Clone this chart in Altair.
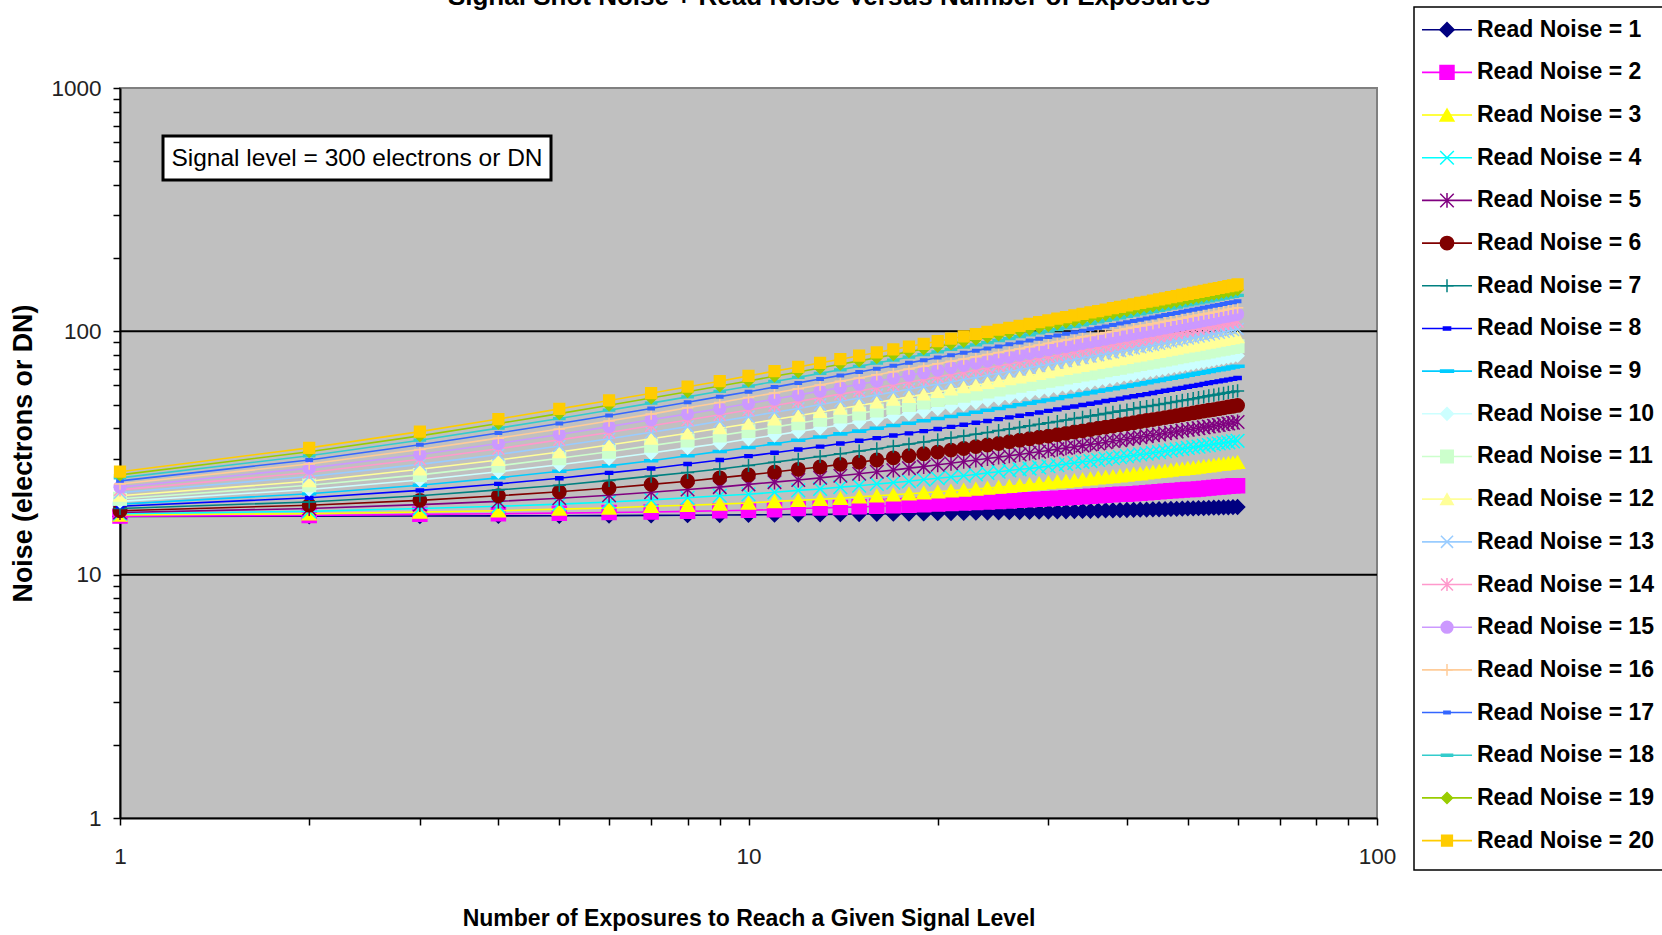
import altair as alt
import pandas as pd

# Number of exposures combined to reach the signal level (x axis)
exposures = [1, 2, 3, 4, 5, 6, 7, 8, 9, 10,
             11, 12, 13, 14, 15, 16, 17, 18, 19, 20,
             21, 22, 23, 24, 25, 26, 27, 28, 29, 30,
             31, 32, 33, 34, 35, 36, 37, 38, 39, 40,
             41, 42, 43, 44, 45, 46, 47, 48, 49, 50,
             51, 52, 53, 54, 55, 56, 57, 58, 59, 60]

# Total noise (electrons or DN) for each read-noise level
rn_01 = [17.35, 17.38, 17.41, 17.44, 17.46, 17.49, 17.52, 17.55, 17.58, 17.61,
         17.64, 17.66, 17.69, 17.72, 17.75, 17.78, 17.80, 17.83, 17.86, 17.89,
         17.92, 17.94, 17.97, 18.00, 18.03, 18.06, 18.08, 18.11, 18.14, 18.17,
         18.19, 18.22, 18.25, 18.28, 18.30, 18.33, 18.36, 18.38, 18.41, 18.44,
         18.47, 18.49, 18.52, 18.55, 18.57, 18.60, 18.63, 18.65, 18.68, 18.71,
         18.73, 18.76, 18.79, 18.81, 18.84, 18.87, 18.89, 18.92, 18.95, 18.97]
rn_02 = [17.4, 17.5, 17.7, 17.8, 17.9, 18.0, 18.1, 18.2, 18.3, 18.4,
         18.5, 18.7, 18.8, 18.9, 19.0, 19.1, 19.2, 19.3, 19.4, 19.5,
         19.6, 19.7, 19.8, 19.9, 20.0, 20.1, 20.2, 20.3, 20.4, 20.5,
         20.6, 20.7, 20.8, 20.9, 21.0, 21.1, 21.2, 21.3, 21.4, 21.4,
         21.5, 21.6, 21.7, 21.8, 21.9, 22.0, 22.1, 22.2, 22.3, 22.4,
         22.4, 22.5, 22.6, 22.7, 22.8, 22.9, 23.0, 23.1, 23.2, 23.2]
rn_03 = [17.6, 17.8, 18.1, 18.3, 18.6, 18.8, 19.1, 19.3, 19.5, 19.7,
         20.0, 20.2, 20.4, 20.6, 20.9, 21.1, 21.3, 21.5, 21.7, 21.9,
         22.1, 22.3, 22.5, 22.7, 22.9, 23.1, 23.3, 23.5, 23.7, 23.9,
         24.1, 24.2, 24.4, 24.6, 24.8, 25.0, 25.2, 25.3, 25.5, 25.7,
         25.9, 26.0, 26.2, 26.4, 26.6, 26.7, 26.9, 27.1, 27.2, 27.4,
         27.5, 27.7, 27.9, 28.0, 28.2, 28.4, 28.5, 28.7, 28.8, 29.0]
rn_04 = [17.8, 18.2, 18.7, 19.1, 19.5, 19.9, 20.3, 20.7, 21.1, 21.4,
         21.8, 22.2, 22.5, 22.9, 23.2, 23.6, 23.9, 24.2, 24.6, 24.9,
         25.2, 25.5, 25.8, 26.2, 26.5, 26.8, 27.1, 27.3, 27.6, 27.9,
         28.2, 28.5, 28.8, 29.1, 29.3, 29.6, 29.9, 30.1, 30.4, 30.7,
         30.9, 31.2, 31.4, 31.7, 31.9, 32.2, 32.4, 32.7, 32.9, 33.2,
         33.4, 33.6, 33.9, 34.1, 34.4, 34.6, 34.8, 35.0, 35.3, 35.5]
rn_05 = [18.0, 18.7, 19.4, 20.0, 20.6, 21.2, 21.8, 22.4, 22.9, 23.5,
         24.0, 24.5, 25.0, 25.5, 26.0, 26.5, 26.9, 27.4, 27.8, 28.3,
         28.7, 29.2, 29.6, 30.0, 30.4, 30.8, 31.2, 31.6, 32.0, 32.4,
         32.8, 33.2, 33.5, 33.9, 34.3, 34.6, 35.0, 35.4, 35.7, 36.1,
         36.4, 36.7, 37.1, 37.4, 37.7, 38.1, 38.4, 38.7, 39.1, 39.4,
         39.7, 40.0, 40.3, 40.6, 40.9, 41.2, 41.5, 41.8, 42.1, 42.4]
rn_06 = [18.3, 19.3, 20.2, 21.1, 21.9, 22.7, 23.5, 24.2, 25.0, 25.7,
         26.4, 27.1, 27.7, 28.4, 29.0, 29.6, 30.2, 30.8, 31.4, 31.9,
         32.5, 33.0, 33.6, 34.1, 34.6, 35.2, 35.7, 36.2, 36.7, 37.1,
         37.6, 38.1, 38.6, 39.0, 39.5, 40.0, 40.4, 40.8, 41.3, 41.7,
         42.1, 42.6, 43.0, 43.4, 43.8, 44.2, 44.6, 45.0, 45.4, 45.8,
         46.2, 46.6, 47.0, 47.4, 47.7, 48.1, 48.5, 48.9, 49.2, 49.6]
rn_07 = [18.7, 19.9, 21.1, 22.3, 23.3, 24.4, 25.4, 26.3, 27.2, 28.1,
         29.0, 29.8, 30.6, 31.4, 32.2, 32.9, 33.7, 34.4, 35.1, 35.8,
         36.5, 37.1, 37.8, 38.4, 39.1, 39.7, 40.3, 40.9, 41.5, 42.1,
         42.6, 43.2, 43.8, 44.3, 44.9, 45.4, 46.0, 46.5, 47.0, 47.5,
         48.1, 48.6, 49.1, 49.6, 50.0, 50.5, 51.0, 51.5, 52.0, 52.4,
         52.9, 53.4, 53.8, 54.3, 54.7, 55.2, 55.6, 56.1, 56.5, 56.9]
rn_08 = [19.1, 20.7, 22.2, 23.6, 24.9, 26.2, 27.3, 28.5, 29.6, 30.7,
         31.7, 32.7, 33.6, 34.6, 35.5, 36.4, 37.3, 38.1, 38.9, 39.7,
         40.5, 41.3, 42.1, 42.8, 43.6, 44.3, 45.0, 45.7, 46.4, 47.1,
         47.8, 48.5, 49.1, 49.8, 50.4, 51.0, 51.7, 52.3, 52.9, 53.5,
         54.1, 54.7, 55.2, 55.8, 56.4, 57.0, 57.5, 58.1, 58.6, 59.2,
         59.7, 60.2, 60.8, 61.3, 61.8, 62.3, 62.8, 63.3, 63.8, 64.3]
rn_09 = [19.5, 21.5, 23.3, 25.0, 26.6, 28.0, 29.4, 30.8, 32.1, 33.3,
         34.5, 35.7, 36.8, 37.9, 38.9, 40.0, 41.0, 41.9, 42.9, 43.8,
         44.7, 45.6, 46.5, 47.4, 48.2, 49.1, 49.9, 50.7, 51.5, 52.2,
         53.0, 53.8, 54.5, 55.3, 56.0, 56.7, 57.4, 58.1, 58.8, 59.5,
         60.2, 60.8, 61.5, 62.2, 62.8, 63.5, 64.1, 64.7, 65.3, 66.0,
         66.6, 67.2, 67.8, 68.4, 69.0, 69.5, 70.1, 70.7, 71.3, 71.8]
rn_10 = [20.0, 22.4, 24.5, 26.5, 28.3, 30.0, 31.6, 33.2, 34.6, 36.1,
         37.4, 38.7, 40.0, 41.2, 42.4, 43.6, 44.7, 45.8, 46.9, 48.0,
         49.0, 50.0, 51.0, 52.0, 52.9, 53.9, 54.8, 55.7, 56.6, 57.4,
         58.3, 59.2, 60.0, 60.8, 61.6, 62.4, 63.2, 64.0, 64.8, 65.6,
         66.3, 67.1, 67.8, 68.6, 69.3, 70.0, 70.7, 71.4, 72.1, 72.8,
         73.5, 74.2, 74.8, 75.5, 76.2, 76.8, 77.5, 78.1, 78.7, 79.4]
rn_11 = [20.5, 23.3, 25.7, 28.0, 30.1, 32.0, 33.9, 35.6, 37.3, 38.9,
         40.4, 41.9, 43.3, 44.7, 46.0, 47.3, 48.5, 49.8, 51.0, 52.2,
         53.3, 54.4, 55.5, 56.6, 57.7, 58.7, 59.7, 60.7, 61.7, 62.7,
         63.6, 64.6, 65.5, 66.4, 67.3, 68.2, 69.1, 70.0, 70.8, 71.7,
         72.5, 73.4, 74.2, 75.0, 75.8, 76.6, 77.4, 78.2, 78.9, 79.7,
         80.4, 81.2, 81.9, 82.7, 83.4, 84.1, 84.8, 85.5, 86.2, 86.9]
rn_12 = [21.1, 24.2, 27.1, 29.6, 31.9, 34.1, 36.2, 38.1, 40.0, 41.7,
         43.4, 45.0, 46.6, 48.1, 49.6, 51.0, 52.4, 53.8, 55.1, 56.4,
         57.7, 58.9, 60.1, 61.3, 62.4, 63.6, 64.7, 65.8, 66.9, 68.0,
         69.0, 70.1, 71.1, 72.1, 73.1, 74.1, 75.0, 76.0, 76.9, 77.8,
         78.8, 79.7, 80.6, 81.5, 82.3, 83.2, 84.1, 84.9, 85.8, 86.6,
         87.4, 88.2, 89.1, 89.9, 90.7, 91.5, 92.2, 93.0, 93.8, 94.6]
rn_13 = [21.7, 25.3, 28.4, 31.2, 33.8, 36.2, 38.5, 40.6, 42.7, 44.6,
         46.5, 48.2, 50.0, 51.6, 53.2, 54.8, 56.3, 57.8, 59.3, 60.7,
         62.0, 63.4, 64.7, 66.0, 67.3, 68.5, 69.7, 70.9, 72.1, 73.3,
         74.4, 75.6, 76.7, 77.8, 78.8, 79.9, 81.0, 82.0, 83.0, 84.0,
         85.0, 86.0, 87.0, 88.0, 88.9, 89.9, 90.8, 91.7, 92.6, 93.5,
         94.4, 95.3, 96.2, 97.1, 98.0, 98.8, 99.7, 100.5, 101.3, 102.2]
rn_14 = [22.3, 26.3, 29.8, 32.9, 35.8, 38.4, 40.9, 43.2, 45.4, 47.5,
         49.6, 51.5, 53.4, 55.2, 56.9, 58.6, 60.3, 61.9, 63.4, 65.0,
         66.5, 67.9, 69.3, 70.7, 72.1, 73.5, 74.8, 76.1, 77.4, 78.6,
         79.8, 81.1, 82.3, 83.5, 84.6, 85.8, 86.9, 88.0, 89.1, 90.2,
         91.3, 92.4, 93.4, 94.5, 95.5, 96.5, 97.5, 98.5, 99.5, 100.5,
         101.5, 102.4, 103.4, 104.3, 105.3, 106.2, 107.1, 108.0, 108.9, 109.8]
rn_15 = [22.9, 27.4, 31.2, 34.6, 37.7, 40.6, 43.3, 45.8, 48.2, 50.5,
         52.7, 54.8, 56.8, 58.7, 60.6, 62.4, 64.2, 66.0, 67.6, 69.3,
         70.9, 72.5, 74.0, 75.5, 77.0, 78.4, 79.8, 81.2, 82.6, 84.0,
         85.3, 86.6, 87.9, 89.2, 90.4, 91.7, 92.9, 94.1, 95.3, 96.4,
         97.6, 98.7, 99.9, 101.0, 102.1, 103.2, 104.3, 105.4, 106.4, 107.5,
         108.5, 109.5, 110.6, 111.6, 112.6, 113.6, 114.6, 115.5, 116.5, 117.5]
rn_16 = [23.6, 28.5, 32.7, 36.4, 39.7, 42.8, 45.7, 48.5, 51.0, 53.5,
         55.8, 58.1, 60.2, 62.3, 64.3, 66.3, 68.2, 70.1, 71.9, 73.6,
         75.3, 77.0, 78.7, 80.3, 81.9, 83.4, 84.9, 86.4, 87.9, 89.3,
         90.8, 92.2, 93.5, 94.9, 96.2, 97.5, 98.9, 100.1, 101.4, 102.7,
         103.9, 105.1, 106.3, 107.5, 108.7, 109.9, 111.0, 112.2, 113.3, 114.5,
         115.6, 116.7, 117.8, 118.8, 119.9, 121.0, 122.0, 123.1, 124.1, 125.1]
rn_17 = [24.3, 29.6, 34.2, 38.2, 41.8, 45.1, 48.2, 51.1, 53.9, 56.5,
         59.0, 61.4, 63.7, 65.9, 68.1, 70.2, 72.2, 74.2, 76.1, 78.0,
         79.8, 81.6, 83.3, 85.1, 86.7, 88.4, 90.0, 91.6, 93.2, 94.7,
         96.2, 97.7, 99.2, 100.6, 102.1, 103.5, 104.8, 106.2, 107.6, 108.9,
         110.2, 111.5, 112.8, 114.1, 115.3, 116.6, 117.8, 119.0, 120.3, 121.4,
         122.6, 123.8, 125.0, 126.1, 127.3, 128.4, 129.5, 130.6, 131.7, 132.8]
rn_18 = [25.0, 30.8, 35.7, 40.0, 43.8, 47.4, 50.7, 53.8, 56.7, 59.5,
         62.2, 64.7, 67.2, 69.5, 71.8, 74.1, 76.2, 78.3, 80.3, 82.3,
         84.3, 86.2, 88.0, 89.9, 91.7, 93.4, 95.1, 96.8, 98.5, 100.1,
         101.7, 103.3, 104.8, 106.4, 107.9, 109.4, 110.9, 112.3, 113.7, 115.2,
         116.5, 117.9, 119.3, 120.6, 122.0, 123.3, 124.6, 125.9, 127.2, 128.5,
         129.7, 131.0, 132.2, 133.4, 134.6, 135.8, 137.0, 138.2, 139.3, 140.5]
rn_19 = [25.7, 32.0, 37.2, 41.8, 45.9, 49.7, 53.2, 56.5, 59.6, 62.5,
         65.4, 68.1, 70.7, 73.2, 75.6, 77.9, 80.2, 82.4, 84.6, 86.7,
         88.8, 90.8, 92.8, 94.7, 96.6, 98.4, 100.2, 102.0, 103.8, 105.5,
         107.2, 108.9, 110.5, 112.1, 113.7, 115.3, 116.9, 118.4, 119.9, 121.4,
         122.9, 124.3, 125.8, 127.2, 128.6, 130.0, 131.4, 132.8, 134.1, 135.5,
         136.8, 138.1, 139.4, 140.7, 142.0, 143.2, 144.5, 145.7, 147.0, 148.2]
rn_20 = [26.5, 33.2, 38.7, 43.6, 48.0, 52.0, 55.7, 59.2, 62.4, 65.6,
         68.6, 71.4, 74.2, 76.8, 79.4, 81.9, 84.3, 86.6, 88.9, 91.1,
         93.3, 95.4, 97.5, 99.5, 101.5, 103.4, 105.4, 107.2, 109.1, 110.9,
         112.7, 114.5, 116.2, 117.9, 119.6, 121.2, 122.9, 124.5, 126.1, 127.7,
         129.2, 130.8, 132.3, 133.8, 135.3, 136.7, 138.2, 139.6, 141.1, 142.5,
         143.9, 145.3, 146.6, 148.0, 149.3, 150.7, 152.0, 153.3, 154.6, 155.9]

series_values = [rn_01, rn_02, rn_03, rn_04, rn_05, rn_06, rn_07, rn_08, rn_09, rn_10,
                 rn_11, rn_12, rn_13, rn_14, rn_15, rn_16, rn_17, rn_18, rn_19, rn_20]
assert all(len(v) == len(exposures) for v in series_values)

series_names = [
    "Read Noise = 1", "Read Noise = 2", "Read Noise = 3", "Read Noise = 4",
    "Read Noise = 5", "Read Noise = 6", "Read Noise = 7", "Read Noise = 8",
    "Read Noise = 9", "Read Noise = 10", "Read Noise = 11", "Read Noise = 12",
    "Read Noise = 13", "Read Noise = 14", "Read Noise = 15", "Read Noise = 16",
    "Read Noise = 17", "Read Noise = 18", "Read Noise = 19", "Read Noise = 20",
]
series_colors = [
    "#000080", "#FF00FF", "#FFFF00", "#00FFFF", "#800080",
    "#800000", "#008080", "#0000FF", "#00CCFF", "#CCFFFF",
    "#CCFFCC", "#FFFF99", "#99CCFF", "#FF99CC", "#CC99FF",
    "#FFCC99", "#3366FF", "#33CCCC", "#99CC00", "#FFCC00",
]

# Classic spreadsheet marker cycle: diamond, square, triangle, x, star,
# circle, plus, short dash, long dash
SHAPE_X = "M-1,-1L1,1M-1,1L1,-1"
SHAPE_STAR = "M-1,-1L1,1M-1,1L1,-1M0,-1.1L0,1.1"
SHAPE_PLUS = "M0,-1L0,1M-1,0L1,0"
SHAPE_DASH = "M-0.55,-0.22L0.55,-0.22L0.55,0.22L-0.55,0.22Z"
SHAPE_LONG_DASH = "M-1,-0.16L1,-0.16L1,0.16L-1,0.16Z"
marker_cycle = ["diamond", "square", "triangle-up", SHAPE_X, SHAPE_STAR,
                "circle", SHAPE_PLUS, SHAPE_DASH, SHAPE_LONG_DASH]
marker_sizes = [200, 115, 170, 105, 120, 135, 125, 150, 165]
series_shapes = [marker_cycle[i % 9] for i in range(len(series_names))]
series_sizes = [marker_sizes[i % 9] for i in range(len(series_names))]

x_ticks = [1, 2, 3, 4, 5, 6, 7, 8, 9, 10, 20, 30, 40, 50, 60, 70, 80, 90, 100]
y_ticks = [1, 2, 3, 4, 5, 6, 7, 8, 9, 10, 20, 30, 40, 50, 60, 70, 80, 90,
           100, 200, 300, 400, 500, 600, 700, 800, 900, 1000]
gridlines = [10, 100]

chart_title = "Signal Shot Noise + Read Noise Versus Number of Exposures"
note_text = "Signal level = 300 electrons or DN"
x_title = "Number of Exposures to Reach a Given Signal Level"
y_title = "Noise (electrons or DN)"

W, H = 1257, 730
FONT = "Liberation Sans, Arial, sans-serif"

x_enc = alt.X(
    "exposures:Q",
    scale=alt.Scale(type="log", domain=[1, 100], nice=False),
    axis=alt.Axis(
        values=x_ticks,
        labelExpr="indexof([1, 10, 100], datum.value) >= 0 ? '' + datum.value : ''",
        labelFlush=False, labelOverlap=False, labelBaseline="middle",
        labelPadding=31, labelFont=FONT, labelFontSize=22.5, labelColor="#222222",
        tickSize=7, tickWidth=1.5, tickColor="black",
        domainColor="black", domainWidth=2, grid=False,
        title=x_title, titleFont=FONT, titleFontSize=23, titleFontWeight="bold",
        titleColor="black", titleX=W / 2, titleY=100, titleBaseline="middle",
        titleAlign="center", titleAnchor="middle",
    ),
)
y_enc = alt.Y(
    "noise:Q",
    scale=alt.Scale(type="log", domain=[1, 1000], nice=False),
    axis=alt.Axis(
        values=y_ticks,
        labelExpr="indexof([1, 10, 100, 1000], datum.value) >= 0 ? '' + datum.value : ''",
        labelOverlap=False, labelFlush=False, labelBaseline="middle",
        labelPadding=12, labelFont=FONT, labelFontSize=22.5, labelColor="#222222",
        tickSize=7, tickWidth=1.5, tickColor="black",
        domainColor="black", domainWidth=2, grid=False,
        title=y_title, titleFont=FONT, titleFontSize=26.8, titleFontWeight="bold",
        titleColor="black", titleAngle=270, titleX=-97, titleY=H / 2,
        titleBaseline="middle", titleAlign="center",
    ),
)
color_scale = alt.Scale(domain=series_names, range=series_colors)
shape_scale = alt.Scale(domain=series_names, range=series_shapes)
size_scale = alt.Scale(domain=series_names, range=series_sizes)

fill_enc = alt.Color("series:N", scale=color_scale, legend=None)
stroke_enc = alt.Stroke("series:N", scale=color_scale, legend=None)
shape_enc = alt.Shape("series:N", scale=shape_scale, legend=None)
size_enc = alt.Size("series:N", scale=size_scale, legend=None)

# Horizontal gridlines at each decade inside the plot
grid = alt.Chart(pd.DataFrame({"noise": gridlines})).mark_rule(
    color="black", strokeWidth=2
).encode(y=y_enc)

plot_layers = [grid]
for name, values in zip(series_names, series_values):
    sdf = pd.DataFrame({"exposures": exposures, "noise": values, "series": name})
    base = alt.Chart(sdf)
    plot_layers.append(
        base.mark_line(strokeWidth=1.6).encode(x=x_enc, y=y_enc, color=stroke_enc)
    )
    plot_layers.append(
        base.mark_point(filled=True, opacity=1, strokeWidth=1.5).encode(
            x=x_enc, y=y_enc, color=fill_enc, stroke=stroke_enc,
            shape=shape_enc, size=size_enc,
        )
    )

# Boxed note in the upper-left of the plot
one = pd.DataFrame({"label": [note_text]})
note_box = alt.Chart(one).mark_rect(fill="white", stroke="black", strokeWidth=3).encode(
    x=alt.value(43), x2=alt.value(431), y=alt.value(48), y2=alt.value(92)
)
note = alt.Chart(one).mark_text(
    font=FONT, fontSize=24.5, color="black", align="center", baseline="middle"
).encode(x=alt.value(237), y=alt.value(71), text="label:N")

title = alt.Chart(pd.DataFrame({"label": [chart_title]})).mark_text(
    font=FONT, fontSize=26, fontWeight="bold", color="black",
    align="center", baseline="alphabetic",
).encode(x=alt.value(709), y=alt.value(-83), text="label:N")

main = alt.layer(*plot_layers, note_box, note, title)

# Legend panel to the right of the plot
legend_df = pd.DataFrame({"series": series_names})
legend_y = alt.Y(
    "series:N",
    scale=alt.Scale(type="point", domain=series_names, range=[-58.3, 752.6], padding=0),
    axis=None,
)
legend_frame = alt.Chart(pd.DataFrame({"k": [0]})).mark_rect(
    fill="white", stroke="black", strokeWidth=1.5
).encode(x=alt.value(1294), x2=alt.value(1570), y=alt.value(-81), y2=alt.value(782))
legend_lines = alt.Chart(legend_df).mark_rule(strokeWidth=1.6).encode(
    x=alt.value(1302), x2=alt.value(1352), y=legend_y, color=stroke_enc
)
legend_marks = alt.Chart(legend_df).mark_point(filled=True, opacity=1, strokeWidth=1.5).encode(
    x=alt.value(1327), y=legend_y, color=fill_enc, stroke=stroke_enc,
    shape=shape_enc, size=size_enc,
)
legend_text = alt.Chart(legend_df).mark_text(
    font=FONT, fontSize=23, fontWeight="bold", color="black",
    align="left", baseline="middle",
).encode(x=alt.value(1357), y=legend_y, text="series:N")
legend = alt.layer(legend_frame, legend_lines, legend_marks, legend_text)

chart = (
    alt.layer(main, legend)
    .resolve_scale(y="independent")
    .properties(
        width=W, height=H,
        autosize=alt.AutoSizeParams(type="none"),
        padding={"left": 120, "top": 88, "right": 285, "bottom": 117},
        background="white",
    )
    .configure_view(fill="#C0C0C0", stroke="#808080", strokeWidth=2)
)

chart.save("out.html", embed_options={"renderer": "svg", "actions": False})
